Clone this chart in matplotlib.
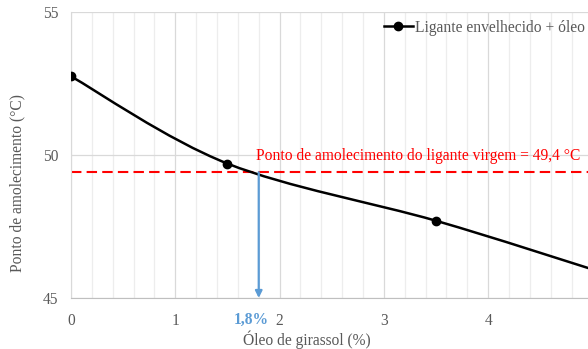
import matplotlib.pyplot as plt
from matplotlib.path import Path
from matplotlib.patches import PathPatch
from matplotlib.ticker import MultipleLocator, FixedLocator

plt.rcParams['font.family'] = ['Liberation Serif', 'DejaVu Serif']

# data
oil = [0, 1.5, 3.5, 5]
soft_point = [52.75, 49.7, 47.7, 46.0]
virgin = 49.4
optimum = 1.8
x_ticks = [0, 1, 2, 3, 4]

series_label = 'Ligante envelhecido + óleo'
ref_label = 'Ponto de amolecimento do ligante virgem = 49,4 °C'

gray = '#595959'
red = '#FF0000'
blue = '#5B9BD5'
fs = 11.2


def smooth_path(xs, ys):
    # Excel-like smoothed line (Catmull-Rom as cubic bezier)
    pts = list(zip(xs, ys))
    verts = [pts[0]]
    codes = [Path.MOVETO]
    n = len(pts)
    for i in range(n - 1):
        p0 = pts[i - 1] if i > 0 else pts[i]
        p1 = pts[i]
        p2 = pts[i + 1]
        p3 = pts[i + 2] if i + 2 < n else pts[i + 1]
        c1 = (p1[0] + (p2[0] - p0[0]) / 6, p1[1] + (p2[1] - p0[1]) / 6)
        c2 = (p2[0] - (p3[0] - p1[0]) / 6, p2[1] - (p3[1] - p1[1]) / 6)
        verts += [c1, c2, p2]
        codes += [Path.CURVE4] * 3
    return Path(verts, codes)


fig = plt.figure(figsize=(5.88, 3.49), dpi=100)
ax = fig.add_axes([71 / 588, 51 / 349, 521.5 / 588, 286 / 349])

ax.set_xlim(0, 5)
ax.set_ylim(45, 55)
ax.xaxis.set_major_locator(FixedLocator(x_ticks))
ax.xaxis.set_minor_locator(MultipleLocator(0.2))
ax.yaxis.set_major_locator(MultipleLocator(5))

ax.grid(True, which='minor', axis='x', color='#EDEDED', lw=0.9)
ax.grid(True, which='major', axis='x', color='#D9D9D9', lw=0.9)
ax.grid(True, which='major', axis='y', color='#D9D9D9', lw=0.9)
ax.set_axisbelow(True)

for s in ['top', 'right']:
    ax.spines[s].set_visible(False)
ax.spines['left'].set_color('#D9D9D9')
ax.spines['bottom'].set_color('#BFBFBF')
ax.tick_params(which='both', length=0, colors=gray, labelsize=fs)
ax.tick_params(axis='x', pad=11)
ax.tick_params(axis='y', pad=9)

# smoothed series
ax.add_patch(PathPatch(smooth_path(oil, soft_point), fill=False,
                       edgecolor='black', lw=1.8, zorder=3))
ax.plot(oil, soft_point, 'o', color='black', ms=6, zorder=4)
ax.plot([], [], '-o', color='black', lw=1.8, ms=6, label=series_label)

# reference line
ax.axhline(virgin, color=red, ls=(0, (5, 2.5)), lw=1.5, zorder=2)
ax.text(1.77, 49.95, ref_label, color=red, fontsize=fs,
        ha='left', va='center')

# arrow down to optimum
ax.annotate('', xy=(optimum, 45), xytext=(optimum, virgin),
            arrowprops=dict(arrowstyle='-|>', color=blue, lw=1.6,
                            mutation_scale=10, shrinkA=0, shrinkB=0),
            zorder=3)
ax.text(1.73, 44.5, '1,8%', color=blue, fontsize=fs, fontweight='bold',
        ha='center', va='top')

ax.set_xlabel('Óleo de girassol (%)', color=gray, fontsize=fs)
ax.xaxis.set_label_coords((307 - 71) / 521.5, -0.115)
ax.set_ylabel('Ponto de amolecimento (°C)', color=gray, fontsize=fs)
ax.yaxis.set_label_coords(-0.088, 0.402)

leg = ax.legend(loc='upper left', bbox_to_anchor=(0.573, 1.022), frameon=False,
                fontsize=fs, handlelength=1.85, handletextpad=0.15,
                labelcolor=gray)

fig.savefig('out.png', dpi=100)
